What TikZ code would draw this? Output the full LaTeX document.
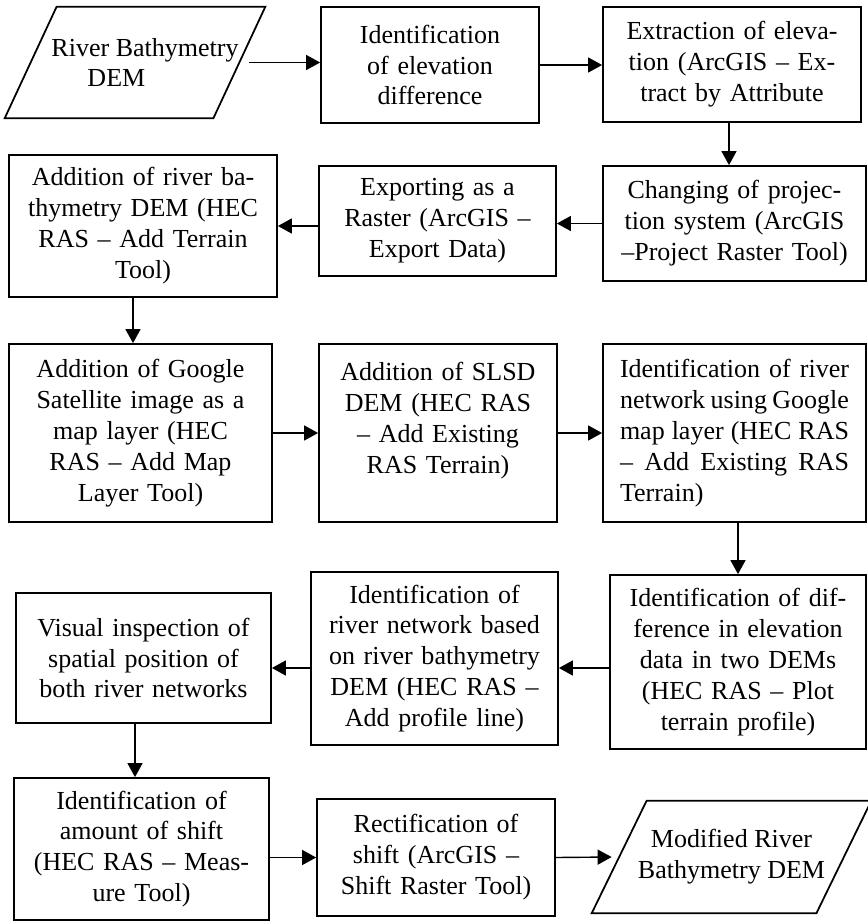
\documentclass[tikz,border=0pt]{standalone}
\usepackage{fontspec}
\setmainfont{Liberation Serif}
\usepackage{tikz}
\usetikzlibrary{arrows.meta}
\usetikzlibrary{positioning}

\tikzset{
	stepbox/.style={draw,line width=1pt,align=center,inner sep=0.1cm,
		font=\fontsize{14.8}{17.6}\selectfont},
	iobox/.style={inner sep=0pt,align=center,
		font=\fontsize{14.8}{17.6}\selectfont},
}

\begin{document}
\begin{tikzpicture}
	\useasboundingbox (0,0) rectangle (17.36,-18.42);

	% input / output data
	\node[iobox,minimum width=4.16cm,minimum height=2.22cm] (src) at (2.90,-1.25) {River Bathymetry\\DEM\hspace*{2.2em}};
	\node[iobox,minimum width=4.48cm,minimum height=2.24cm] (mod) at (14.63,-17.14) {Modified River\\Bathymetry DEM};
	\foreach \n/\a/\b in {src/0.32/0.72,mod/0.55/0.55}
		\draw[line width=1pt] ([xshift=\a cm]\n.north west) -- ([xshift=\a cm]\n.north east)
			-- ([xshift=-\b cm]\n.south east) -- ([xshift=-\b cm]\n.south west) -- cycle;

	% processing steps
	\begin{scope}[every node/.style={stepbox}]
		\node[text width=4.16cm,minimum height=2.32cm] (idf) at (8.60,-1.30) {Identification\\of elevation\\difference};
		\node[text width=4.96cm,minimum height=2.30cm] (extr) at (14.64,-1.29) {Extraction of eleva-\\tion (ArcGIS – Ex-\\tract by Attribute};
		\node[text width=5.06cm,minimum height=2.30cm] (proj) at (14.69,-4.47) {Changing of projec-\\tion system (ArcGIS\\–Project Raster Tool)};
		\node[text width=4.54cm,minimum height=2.20cm] (expo) at (8.75,-4.42) {Exporting as a\\Raster (ArcGIS –\\Export Data)};
		\node[text width=5.16cm,minimum height=2.84cm] (addbath) at (2.86,-4.52) {Addition of river ba-\\thymetry DEM (HEC\\RAS – Add Terrain\\Tool)};

		\node[text width=5.06cm,minimum height=3.56cm] (gsat) at (2.81,-8.66) {Addition of Google\\Satellite image as a\\map layer (HEC\\RAS – Add Map\\Layer Tool)};
		\node[text width=4.56cm,minimum height=3.56cm] (slsd) at (8.76,-8.66) {Addition of SLSD\\DEM (HEC RAS\\– Add Existing\\RAS Terrain)\\\mbox{}};
		\node[align=justify,text width=4.58cm,inner xsep=0.34cm,minimum height=3.56cm] (netg) at (14.69,-8.66) {Identification of river\linebreak network using Google\linebreak map layer (HEC RAS\linebreak – Add Existing RAS\linebreak Terrain)};

		\node[text width=4.92cm,minimum height=3.48cm] (diff) at (14.76,-13.24) {Identification of dif-\\ference in elevation\\data in two DEMs\\(HEC RAS – Plot\\terrain profile)};
		\node[text width=4.74cm,minimum height=3.46cm] (netb) at (8.69,-13.17) {Identification of\\river network based\\on river bathymetry\\DEM (HEC RAS –\\Add profile line)};
		\node[text width=4.90cm,minimum height=2.60cm] (vis) at (2.87,-13.16) {Visual inspection of\\spatial position of\\both river networks};

		\node[text width=4.90cm,minimum height=2.84cm] (shift) at (2.83,-16.98) {Identification of\\amount of shift\\(HEC RAS – Meas-\\ure Tool)};
		\node[text width=4.56cm,minimum height=2.34cm] (rect) at (8.72,-17.15) {Rectification of\\shift (ArcGIS –\\Shift Raster Tool)};
	\end{scope}

	% flow
	\begin{scope}[line width=0.8pt,>={Triangle[length=0.28cm,width=0.3cm]}]
		\draw[->] (src.east) -- (src.east -| idf.west);
		\draw[->] (idf.east) -- (idf.east -| extr.west);
		\draw[->] ([xshift=-0.06cm]extr.south) -- ([xshift=-0.06cm]extr.south |- proj.north);
		\draw[->] (proj.west) -- (proj.west -| expo.east);
		\draw[->] (addbath.east -| expo.west) -- (addbath.east);
		\draw[->] ([xshift=-0.2cm]addbath.south) -- ([xshift=-0.2cm]addbath.south |- gsat.north);
		\draw[->] (gsat.east) -- (gsat.east -| slsd.west);
		\draw[->] (slsd.east) -- (slsd.east -| netg.west);
		\draw[->] (diff.north |- netg.south) -- (diff.north);
		\draw[->] ([yshift=-0.12cm]diff.west) -- ([yshift=-0.12cm]diff.west -| netb.east);
		\draw[->] ([yshift=-0.19cm]netb.west) -- ([yshift=-0.19cm]netb.west -| vis.east);
		\draw[->] ([xshift=-0.17cm]vis.south) -- ([xshift=-0.17cm]vis.south |- shift.north);
		\draw[->] (rect.west -| shift.east) -- (rect.west);
		\draw[->] (rect.east) -- ([xshift=-0.15cm]mod.west);
	\end{scope}
\end{tikzpicture}
\end{document}
